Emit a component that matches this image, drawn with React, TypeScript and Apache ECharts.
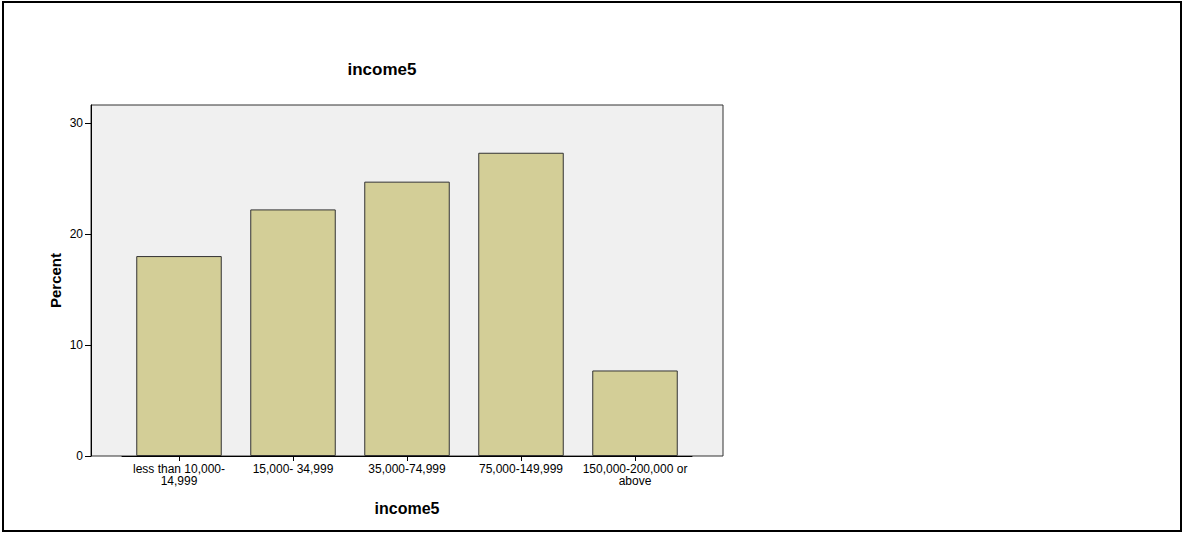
import React, { useEffect, useRef } from "react";
import * as echarts from "echarts";

const categories = [
  "less than 10,000-\n14,999",
  "15,000- 34,999",
  "35,000-74,999",
  "75,000-149,999",
  "150,000-200,000 or\nabove",
];
const percentValues = [18.0, 22.2, 24.7, 27.3, 7.7];
const yTicks = [0, 10, 20, 30];

export default function App() {
  const ref = useRef<HTMLDivElement>(null);
  useEffect(() => {
    if (!ref.current) return;
    const chart = echarts.init(ref.current, null, { renderer: "svg" });
    const font = "Arial, 'Liberation Sans', sans-serif";
    chart.setOption({
      animation: false,
      backgroundColor: "#ffffff",
      textStyle: { fontFamily: font },
      title: {
        text: "income5",
        left: 377,
        top: 56,
        textAlign: "center",
        textStyle: { fontSize: 17, fontWeight: "bold", color: "#000", fontFamily: font },
      },
      graphic: [
        {
          type: "rect",
          z: -10,
          shape: { x: 91, y: 105, width: 632, height: 351 },
          style: { fill: "#f0f0f0", stroke: "#333", lineWidth: 1 },
        },
        {
          type: "rect",
          z: 100,
          shape: { x: 3, y: 2, width: 1178, height: 529 },
          style: { fill: "none", stroke: "#000", lineWidth: 2 },
        },
      ],
      grid: {
        left: 122,
        top: 105,
        width: 570,
        height: 351,
        show: false,
      },
      xAxis: {
        type: "category",
        data: categories,
        name: "income5",
        nameLocation: "middle",
        nameGap: 44,
        nameTextStyle: { fontSize: 16, fontWeight: "bold", color: "#000", fontFamily: font },
        axisLine: { show: true, lineStyle: { color: "#000", width: 1 } },
        axisTick: { show: true, alignWithLabel: true, length: 5, lineStyle: { color: "#000" } },
        axisLabel: { fontSize: 12, color: "#000", margin: 7, lineHeight: 12, fontFamily: font, interval: 0 },
        splitLine: { show: false },
      },
      yAxis: {
        type: "value",
        min: 0,
        max: 31.6,
        interval: 10,
        offset: 31,
        name: "Percent",
        nameLocation: "middle",
        nameGap: 28,
        nameRotate: 90,
        nameTextStyle: { fontSize: 15, fontWeight: "bold", color: "#000", fontFamily: font },
        axisLine: { show: true, lineStyle: { color: "#000", width: 1 } },
        axisTick: { show: true, length: 6, lineStyle: { color: "#000" } },
        axisLabel: {
          fontSize: 12,
          color: "#000",
          margin: 8,
          fontFamily: font,
          showMaxLabel: false,
          formatter: (v: number) => (yTicks.includes(v) ? String(v) : ""),
        },
        splitLine: { show: false },
      },
      series: [
        {
          type: "bar",
          data: percentValues,
          barWidth: "75%",
          itemStyle: { color: "#d3ce97", borderColor: "#333", borderWidth: 1 },
        },
      ],
    });
    return () => chart.dispose();
  }, []);
  return (
    <div
      ref={ref}
      style={{ position: "fixed", left: 0, top: 0, width: 1183, height: 533 }}
    />
  );
}
